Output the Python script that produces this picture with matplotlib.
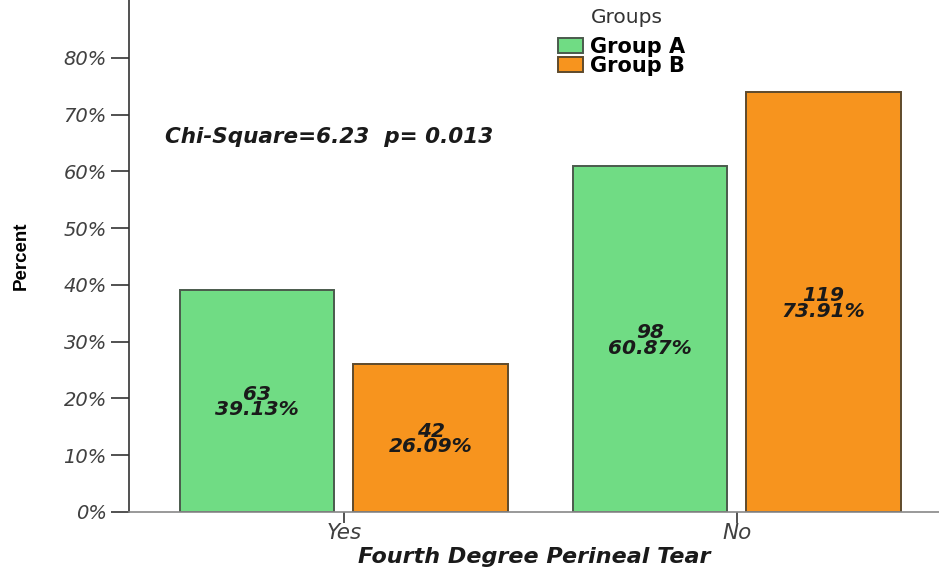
import numpy as np
import matplotlib.pyplot as plt

plt.rcParams['font.family'] = ['DejaVu Sans']

# data
categories = ['Yes', 'No']
groups = ['Group A', 'Group B']
counts_a = [63, 98]
counts_b = [42, 119]
pct_a = [39.13, 60.87]
pct_b = [26.09, 73.91]
yticks = [0, 10, 20, 30, 40, 50, 60, 70, 80]

green = '#70dc84'
orange = '#f7941e'

fig = plt.figure(figsize=(9.39, 5.69), dpi=100)
ax = fig.add_axes([0.1374, 0.1002, 0.8626, 0.8998])

x = np.arange(len(categories))
w = 0.394
off = 0.221
bars_a = ax.bar(x - off, pct_a, w, color=green, edgecolor='#4a5a4c', linewidth=1.4, label=groups[0])
bars_b = ax.bar(x + off, pct_b, w, color=orange, edgecolor='#5e4a2c', linewidth=1.4, label=groups[1])

# bar labels: count and percent, centred in the bar
for bars, counts, pcts in [(bars_a, counts_a, pct_a), (bars_b, counts_b, pct_b)]:
    for b, c, p in zip(bars, counts, pcts):
        ax.text(b.get_x() + b.get_width() / 2, p / 2 - 0.2, f'{c}\n{p:.2f}%',
                ha='center', va='center', fontsize=14.5, fontweight='bold',
                fontstyle='italic', color='#1a1a1a', linespacing=0.78)

ax.set_xlim(-0.547, 1.515)
ax.set_ylim(0, 90.2)
ax.set_yticks(yticks)
ax.set_yticklabels([f'{t}%' for t in yticks], fontstyle='italic', fontsize=14, color='#404040')
ax.set_xticks(x)
ax.set_xticklabels(categories, fontstyle='italic', fontsize=15.5, color='#404040')
ax.tick_params(axis='y', length=13, width=1.2, color='#333333', pad=3)
ax.tick_params(axis='x', length=8, width=1.2, color='#333333', pad=0)

for s in ['top', 'right']:
    ax.spines[s].set_visible(False)
ax.spines['left'].set_color('#333333')
ax.spines['left'].set_linewidth(1.2)
ax.spines['bottom'].set_color('#888888')
ax.spines['bottom'].set_linewidth(1.2)

ax.set_ylabel('Percent', fontsize=13.5, fontweight='bold', labelpad=24,
              family='Liberation Sans')
ax.set_xlabel('Fourth Degree Perineal Tear', fontsize=16, fontweight='bold',
              fontstyle='italic', labelpad=3, color='#1a1a1a')

ax.text(-0.456, 66.1, 'Chi-Square=6.23  p= 0.013', fontsize=15.5, fontweight='bold',
        fontstyle='italic', color='#1a1a1a', ha='left', va='center')

# legend title drawn separately so the gap above the entries matches
ax.text(0.615, 0.965, 'Groups', transform=ax.transAxes, ha='center', va='center',
        fontsize=14.5, color='#333333')
leg = ax.legend(loc='upper left', bbox_to_anchor=(0.5296, 0.928),
                frameon=False, fontsize=15, borderaxespad=0, borderpad=0,
                handlelength=1.2, handleheight=0.72, handletextpad=0.35,
                labelspacing=-0.05)
for t in leg.get_texts():
    t.set_fontweight('bold')

fig.savefig('out.png', dpi=100)
